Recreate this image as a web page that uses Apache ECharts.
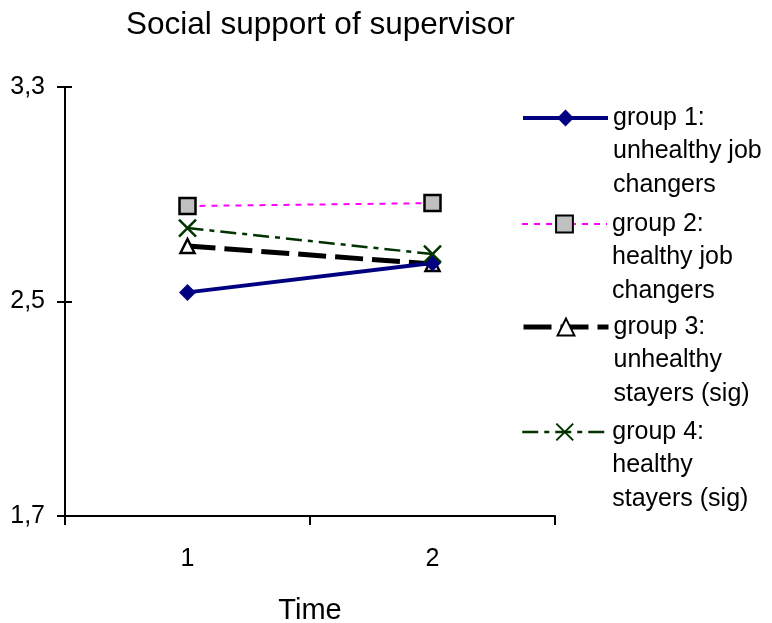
<!DOCTYPE html>
<html>
<head>
<meta charset="utf-8">
<script src="https://cdn.jsdelivr.net/npm/echarts@6/dist/echarts.min.js"></script>
<style>html,body{margin:0;padding:0;background:#fff;}#c{width:772px;height:623px;}</style>
</head>
<body>
<div id="c"></div>
<script>
var categories = ['1', '2'];
var seriesNames = [
  'group 1:\nunhealthy job\nchangers',
  'group 2:\nhealthy job\nchangers',
  'group 3:\nunhealthy\nstayers (sig)',
  'group 4:\nhealthy\nstayers (sig)'
];
var group1 = [2.534, 2.644];
var group2 = [2.856, 2.867];
var group3 = [2.707, 2.640];
var group4 = [2.774, 2.677];
var yTicks = [1.7, 2.5, 3.3];

var FONT = '"Liberation Sans", Arial, sans-serif';
var legendIconY = [118, 224, 327, 432];
var legendLineW = [4, 2, 5, 2.5];

function mkLegend(i) {
  return {
    data: [seriesNames[i]],
    left: 521,
    top: legendIconY[i] - 83.75,
    padding: 0,
    orient: 'vertical',
    itemWidth: 85,
    itemHeight: 21,
    selectedMode: false,
    formatter: function (n) { return '\n\n' + n; },
    lineStyle: { width: legendLineW[i] },
    textStyle: {
      fontFamily: FONT, fontSize: 25, lineHeight: 33.5, color: '#000'
    }
  };
}

var chart = echarts.init(document.getElementById('c'));
chart.setOption({
  backgroundColor: '#fff',
  animation: false,
  title: {
    text: 'Social support of supervisor',
    left: 126, top: 9, padding: 0,
    textStyle: { fontFamily: FONT, fontSize: 31.5, fontWeight: 'normal', color: '#000' }
  },
  legend: [mkLegend(0), mkLegend(1), mkLegend(2), mkLegend(3)],
  grid: { left: 65, right: 217, top: 87, bottom: 107, containLabel: false, outerBoundsMode: 'none' },
  xAxis: {
    type: 'category',
    data: categories,
    boundaryGap: true,
    name: 'Time',
    nameLocation: 'middle',
    nameGap: 80,
    nameTextStyle: { fontFamily: FONT, fontSize: 29, color: '#000' },
    axisLine: { lineStyle: { color: '#000', width: 2 } },
    axisTick: { show: true, length: 9, lineStyle: { color: '#000', width: 2 } },
    axisLabel: { fontFamily: FONT, fontSize: 25, color: '#000', margin: 31 },
    splitLine: { show: false }
  },
  yAxis: [{
    type: 'value',
    min: 1.7, max: 3.3,
    axisLine: { show: true, lineStyle: { color: '#000', width: 2 } },
    axisTick: { show: true, length: 8, customValues: yTicks, lineStyle: { color: '#000', width: 2 } },
    axisLabel: {
      fontFamily: FONT, fontSize: 25, color: '#000', margin: 20,
      customValues: yTicks,
      formatter: function (v) { return v.toFixed(1).replace('.', ','); }
    },
    splitLine: { show: false }
  }, {
    type: 'value',
    min: 1.7, max: 3.3,
    position: 'left',
    axisLine: { show: false },
    axisTick: { show: true, inside: true, length: 7, customValues: yTicks, lineStyle: { color: '#000', width: 2 } },
    axisLabel: { show: false },
    splitLine: { show: false }
  }],
  series: [{
    name: seriesNames[0], type: 'line', data: group1,
    symbol: 'diamond', symbolSize: 17,
    itemStyle: { color: '#000080' },
    lineStyle: { color: '#000080', width: 4, type: 'solid' },
    z: 4
  }, {
    name: seriesNames[1], type: 'line', data: group2,
    symbol: 'rect', symbolSize: 16,
    itemStyle: { color: '#c0c0c0', borderColor: '#000', borderWidth: 2.5 },
    lineStyle: { color: '#ff00ff', width: 2, type: [6, 6] },
    z: 3
  }, {
    name: seriesNames[2], type: 'line', data: group3,
    symbol: 'triangle', symbolSize: 14,
    itemStyle: { color: '#fff', borderColor: '#000', borderWidth: 2.5 },
    lineStyle: { color: '#000', width: 5, type: [28, 9] },
    z: 2
  }, {
    name: seriesNames[3], type: 'line', data: group4,
    symbol: 'path://M0,0L10,10M0,10L10,0', symbolSize: 17,
    itemStyle: { color: '#003300', borderColor: '#003300', borderWidth: 2.5 },
    lineStyle: { color: '#003300', width: 2.5, type: [16, 6, 5, 6] },
    z: 5
  }]
});
</script>
</body>
</html>
